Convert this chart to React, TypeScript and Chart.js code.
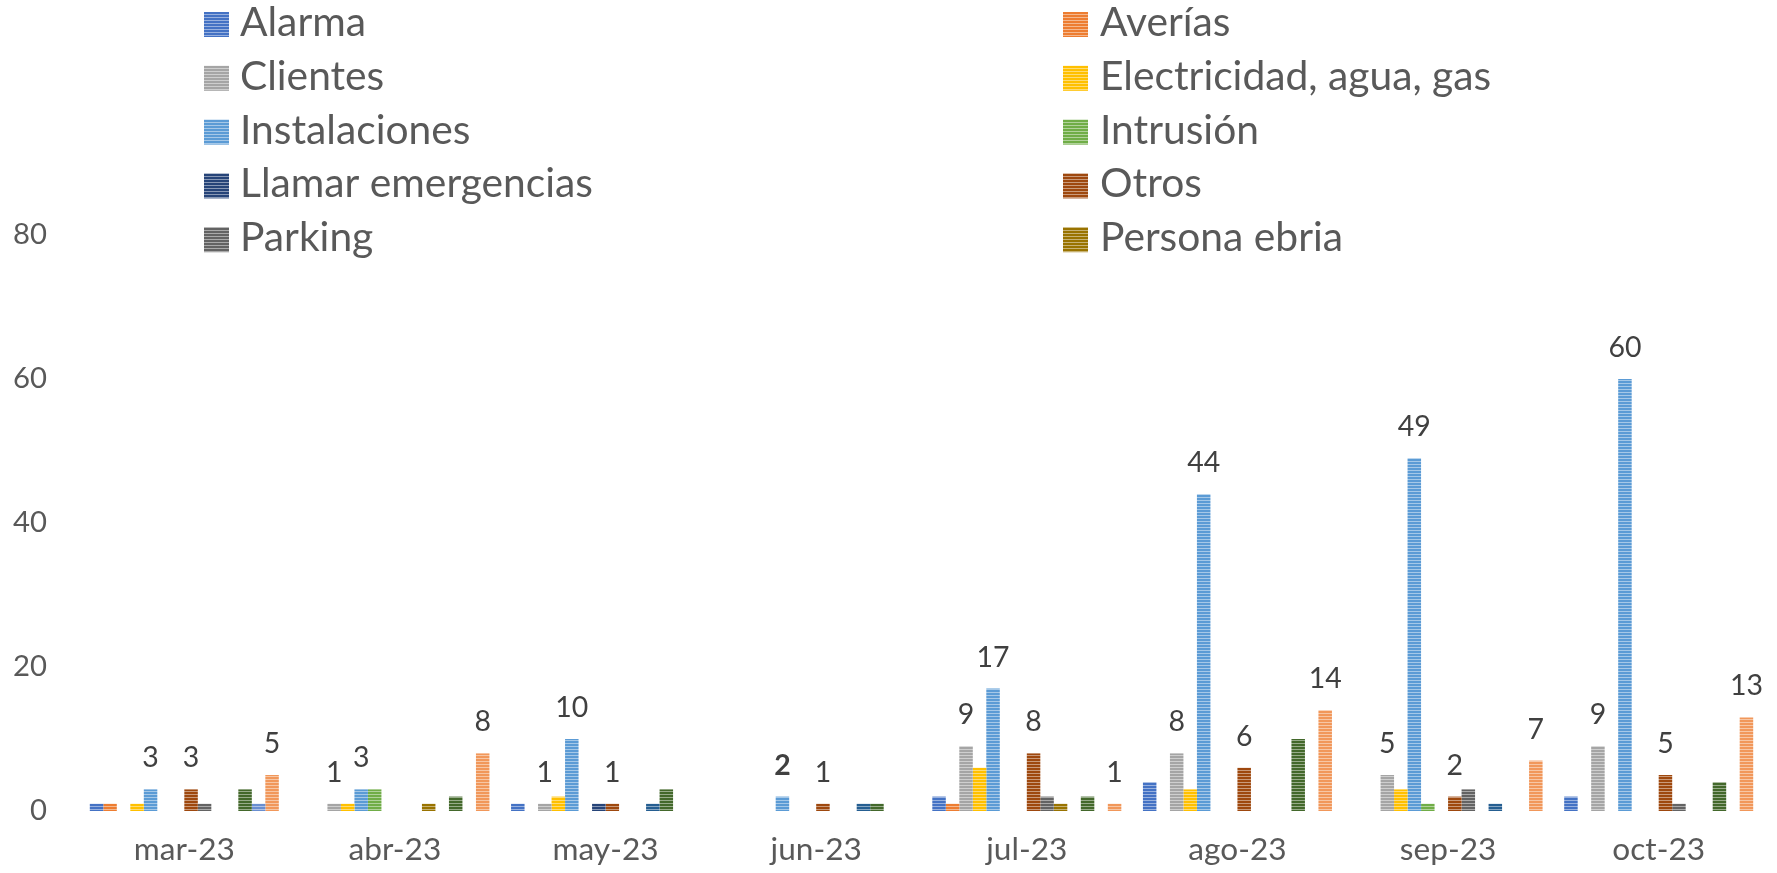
import React, { useEffect, useRef } from "react";
import { Chart, registerables } from "chart.js";

Chart.register(...registerables);

// ---------- data ----------
const MONTHS = ["mar-23", "abr-23", "may-23", "jun-23", "jul-23", "ago-23", "sep-23", "oct-23"];

const SERIES_NAMES = [
  "Alarma",
  "Averías",
  "Clientes",
  "Electricidad, agua, gas",
  "Instalaciones",
  "Intrusión",
  "Llamar emergencias",
  "Otros",
  "Parking",
  "Persona ebria",
  "Robo",
  "Ruidos",
  "Sospechoso",
  "Vandalismo",
];

const ALARMA = [1, 0, 1, 0, 2, 4, 0, 2];
const AVERIAS = [1, 0, 0, 0, 1, 0, 0, 0];
const CLIENTES = [0, 1, 1, 0, 9, 8, 5, 9];
const ELECTRICIDAD = [1, 1, 2, 0, 6, 3, 3, 0];
const INSTALACIONES = [3, 3, 10, 2, 17, 44, 49, 60];
const INTRUSION = [0, 3, 0, 0, 0, 0, 1, 0];
const LLAMAR = [0, 0, 1, 0, 0, 0, 0, 0];
const OTROS = [3, 0, 1, 1, 8, 6, 2, 5];
const PARKING = [1, 0, 0, 0, 2, 0, 3, 1];
const PERSONA_EBRIA = [0, 1, 0, 0, 1, 0, 0, 0];
const ROBO = [0, 0, 1, 1, 0, 0, 1, 0];
const RUIDOS = [3, 2, 3, 1, 2, 10, 0, 4];
const SOSPECHOSO = [1, 0, 0, 0, 0, 0, 0, 0];
const VANDALISMO = [5, 8, 0, 0, 1, 14, 7, 13];

const SERIES_VALUES = [
  ALARMA, AVERIAS, CLIENTES, ELECTRICIDAD, INSTALACIONES, INTRUSION, LLAMAR,
  OTROS, PARKING, PERSONA_EBRIA, ROBO, RUIDOS, SOSPECHOSO, VANDALISMO,
];

const Y_MIN = 0;
const Y_MAX = 80;
const Y_STEP = 20;

const LEGEND_VISIBLE = 10;
const LABELLED_SERIES = ["Clientes", "Instalaciones", "Otros", "Vandalismo"];
const BOLD_LABEL = { series: "Instalaciones", month: "jun-23" };

// ---------- style ----------
const COLORS = [
  "#4472C4", "#ED7D31", "#A5A5A5", "#FFC000", "#5B9BD5", "#70AD47", "#264478",
  "#9E480E", "#636363", "#997300", "#255E91", "#43682B", "#698ED0", "#F1975A",
];
const FONT = "Lato, 'Open Sans', sans-serif";
const AXIS_COLOR = "#595959";
const LABEL_COLOR = "#404040";

function mix(hex: string, t: number) {
  const n = parseInt(hex.slice(1), 16);
  const r = (n >> 16) & 255, g = (n >> 8) & 255, b = n & 255;
  const f = (v: number) => Math.round(v + (255 - v) * t);
  return `rgb(${f(r)},${f(g)},${f(b)})`;
}

function stripe(hex: string): CanvasPattern | string {
  const c = document.createElement("canvas");
  c.width = 4;
  c.height = 3;
  const x = c.getContext("2d");
  if (!x) return hex;
  x.fillStyle = hex;
  x.fillRect(0, 0, 4, 3);
  x.fillStyle = mix(hex, 0.45);
  x.fillRect(0, 2, 4, 1);
  return x.createPattern(c, "repeat") || hex;
}

function fitSize(text: string, target: number) {
  const c = document.createElement("canvas").getContext("2d");
  if (!c) return 30;
  c.font = `100px ${FONT}`;
  return (100 * target) / c.measureText(text).width;
}

export default function App() {
  const ref = useRef<HTMLCanvasElement>(null);

  useEffect(() => {
    document.body.style.margin = "0";
    const canvas = ref.current;
    if (!canvas) return;

    const legendSize = fitSize("Llamar emergencias", 353);
    const xTickSize = fitSize("mar-23", 101);
    const yTickSize = fitSize("80", 34);
    const labelSize = fitSize("10", 33);

    const patterns = COLORS.map(stripe);

    const datasets = SERIES_NAMES.map((name, i) => ({
      label: name,
      data: SERIES_VALUES[i],
      backgroundColor: patterns[i] as any,
      borderWidth: 0,
      barPercentage: 1,
      categoryPercentage: 14 / 15.6,
    }));

    const legendPlugin = {
      id: "gridLegend",
      afterDraw(chart: any) {
        const ctx = chart.ctx;
        ctx.save();
        ctx.font = `${legendSize}px ${FONT}`;
        ctx.fillStyle = AXIS_COLOR;
        ctx.textAlign = "left";
        ctx.textBaseline = "alphabetic";
        const colBox = [204, 1063];
        const colText = [240, 1100];
        for (let i = 0; i < LEGEND_VISIBLE; i++) {
          const col = i % 2;
          const row = Math.floor(i / 2);
          const cy = 24.5 + row * 53.8;
          ctx.fillStyle = patterns[i];
          ctx.fillRect(colBox[col], cy - 12.5, 25, 25);
          ctx.fillStyle = AXIS_COLOR;
          ctx.fillText(chart.data.datasets[i].label, colText[col], cy + 11.5);
        }
        ctx.restore();
      },
    };

    const labelPlugin = {
      id: "pointLabels",
      afterDatasetsDraw(chart: any) {
        const ctx = chart.ctx;
        ctx.save();
        ctx.fillStyle = LABEL_COLOR;
        ctx.textAlign = "center";
        ctx.textBaseline = "alphabetic";
        chart.data.datasets.forEach((ds: any, di: number) => {
          if (!LABELLED_SERIES.includes(ds.label)) return;
          const meta = chart.getDatasetMeta(di);
          meta.data.forEach((el: any, pi: number) => {
            const v = ds.data[pi];
            if (!v) return;
            const bold = ds.label === BOLD_LABEL.series && chart.data.labels[pi] === BOLD_LABEL.month;
            ctx.font = `${bold ? "bold " : ""}${labelSize}px ${FONT}`;
            ctx.fillText(String(v), el.x, el.y - 22);
          });
        });
        ctx.restore();
      },
    };

    const chart = new Chart(canvas, {
      type: "bar",
      data: { labels: MONTHS, datasets },
      options: {
        animation: false,
        responsive: false,
        maintainAspectRatio: false,
        layout: { padding: { top: 235, right: 13, left: 0, bottom: 0 } },
        plugins: {
          legend: { display: false },
          tooltip: { enabled: false },
        },
        scales: {
          x: {
            grid: { display: false, drawTicks: false, tickLength: 0 },
            border: { display: false },
            ticks: {
              color: AXIS_COLOR,
              font: { family: FONT, size: xTickSize },
              padding: 20,
              maxRotation: 0,
              autoSkip: false,
            },
            afterFit: (s: any) => {
              s.height = 62;
            },
          },
          y: {
            min: Y_MIN,
            max: Y_MAX,
            grid: { display: false, drawTicks: false, tickLength: 0 },
            border: { display: false },
            ticks: {
              stepSize: Y_STEP,
              color: AXIS_COLOR,
              font: { family: FONT, size: yTickSize },
              padding: 32,
            },
            afterFit: (s: any) => {
              s.width = 79;
            },
          },
        },
      },
      plugins: [labelPlugin, legendPlugin],
    });

    return () => chart.destroy();
  }, []);

  return (
    <div style={{ position: "fixed", left: 0, top: 0, width: 1777, height: 873 }}>
      <canvas ref={ref} width={1777} height={873} style={{ display: "block" }} />
    </div>
  );
}
